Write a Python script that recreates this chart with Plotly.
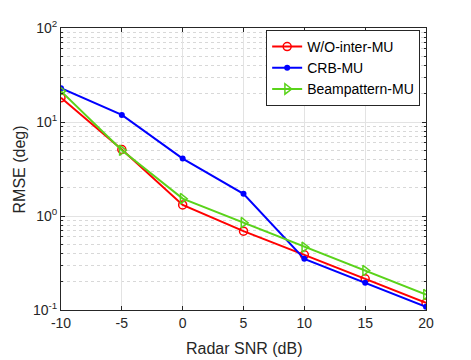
import plotly.graph_objects as go

snr = [-10, -5, 0, 5, 10, 15, 20]
snr_labels = ["-10", "-5", "0", "5", "10", "15", "20"]
wo_inter_mu = [18.1, 5.1, 1.31, 0.69, 0.386, 0.215, 0.119]
crb_mu = [22.9, 11.9, 4.08, 1.72, 0.35, 0.195, 0.108]
beampattern_mu = [21.3, 5.0, 1.53, 0.85, 0.466, 0.263, 0.146]

ytick_vals = [0.1, 1, 10, 100]
ytick_text = ["10<sup>-1</sup>", "10<sup>0</sup>", "10<sup>1</sup>", "10<sup>2</sup>"]

fig = go.Figure()
fig.add_trace(go.Scatter(x=snr, y=wo_inter_mu, name="W/O-inter-MU", mode="lines+markers",
                         line=dict(color="#ff0000", width=2),
                         marker=dict(symbol="circle-open", size=8, color="#ff0000", line=dict(width=1.5))))
fig.add_trace(go.Scatter(x=snr, y=crb_mu, name="CRB-MU", mode="lines+markers",
                         line=dict(color="#0000ff", width=2),
                         marker=dict(symbol="circle", size=6, color="#0000ff")))
fig.add_trace(go.Scatter(x=snr, y=beampattern_mu, name="Beampattern-MU", mode="lines+markers",
                         line=dict(color="#5ad31a", width=2),
                         marker=dict(symbol="triangle-right-open", size=9, color="#5ad31a", line=dict(width=1.5))))

fig.update_layout(
    width=471, height=360,
    margin=dict(l=53, r=53, t=20, b=58),
    paper_bgcolor="white", plot_bgcolor="white",
    font=dict(family="Liberation Sans, Arial, sans-serif", size=14, color="#262626"),
    showlegend=True,
    legend=dict(x=0.984, y=0.993, xanchor="right", yanchor="top",
                bordercolor="#262626", borderwidth=1, bgcolor="white",
                font=dict(size=14, color="#000000"), tracegroupgap=0,
                itemwidth=30),
    xaxis=dict(range=[-10, 20], tickvals=snr, ticktext=snr_labels, automargin=False,
               showgrid=True, gridcolor="#e3e3e3", gridwidth=1,
               showline=True, linecolor="#262626", linewidth=1, mirror="ticks",
               ticks="inside", ticklen=4, tickcolor="#262626", zeroline=False),
    yaxis=dict(type="log", range=[-1, 2], tickvals=ytick_vals, ticktext=ytick_text, automargin=False,
               showgrid=True, gridcolor="#e3e3e3", gridwidth=1,
               showline=True, linecolor="#262626", linewidth=1, mirror="ticks",
               ticks="inside", ticklen=4, tickcolor="#262626", zeroline=False,
               minor=dict(ticks="inside", ticklen=2, tickcolor="#262626",
                          showgrid=True, gridcolor="#d8d8d8", griddash="dot",
                          tickvals=[v * m for v in [0.1, 1, 10] for m in range(2, 10)])),
    annotations=[
        dict(text="Radar SNR (dB)", xref="paper", yref="paper", x=0.5, y=-0.138,
             xanchor="center", yanchor="middle", showarrow=False, font=dict(size=16, color="#262626")),
        dict(text="RMSE (deg)", xref="paper", yref="paper", x=-0.1425, y=0.5, textangle=-90,
             xanchor="left", yanchor="middle", showarrow=False, font=dict(size=16, color="#262626")),
    ],
)

fig.write_html("out.html")
